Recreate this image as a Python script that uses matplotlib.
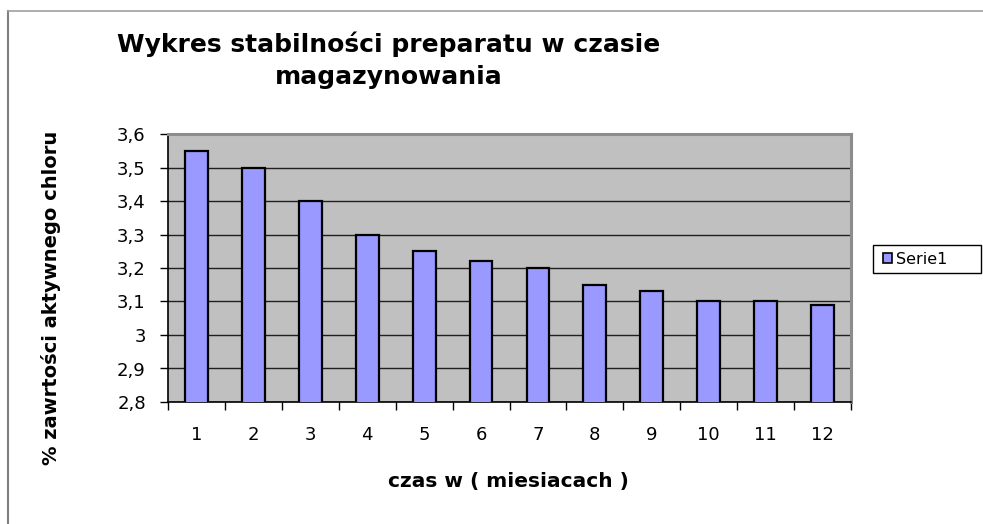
import matplotlib
matplotlib.use("Agg")
import matplotlib.pyplot as plt
from matplotlib.patches import Rectangle
import numpy as np

plt.rcParams['font.family'] = ['DejaVu Sans']

months = ['1', '2', '3', '4', '5', '6', '7', '8', '9', '10', '11', '12']
values = [3.55, 3.50, 3.40, 3.30, 3.25, 3.22, 3.20, 3.15, 3.13, 3.10, 3.10, 3.09]
y_ticks = [2.8, 2.9, 3.0, 3.1, 3.2, 3.3, 3.4, 3.5, 3.6]
y_ticklabels = ['2,8', '2,9', '3', '3,1', '3,2', '3,3', '3,4', '3,5', '3,6']
series_name = 'Serie1'
title = 'Wykres stabilności preparatu w czasie\nmagazynowania'
xlabel = 'czas w ( miesiacach )'
ylabel = '% zawrtości aktywnego chloru'

W, H = 983, 524
fig = plt.figure(figsize=(W / 100, H / 100), dpi=100)

# outer chart border (left and top visible)
fig.add_artist(plt.Line2D([7.5 / W, 7.5 / W], [0, 1 - 10.5 / H], color='#7F7F7F', lw=1.5))
fig.add_artist(plt.Line2D([7.5 / W, 1.01], [1 - 10.5 / H, 1 - 10.5 / H], color='#A0A0A0', lw=1.2))

left, right, top, bottom = 168, 851, 134, 402
ax = fig.add_axes([left / W, 1 - bottom / H, (right - left) / W, (bottom - top) / H])
ax.set_facecolor('#C0C0C0')

x = np.arange(len(months))
ax.bar(x, values, width=0.40, bottom=0, color='#9999FF', edgecolor='black', linewidth=1.6, zorder=3, label=series_name)
ax.set_ylim(2.8, 3.6)
ax.set_xlim(-0.5, len(months) - 0.5)

ax.set_yticks(y_ticks)
ax.set_yticklabels(y_ticklabels, fontsize=13)
ax.yaxis.grid(True, color='#202020', lw=1.0, zorder=1)
ax.set_axisbelow(True)

ax.set_xticks(x)
ax.set_xticklabels(months, fontsize=13)
ax.tick_params(axis='x', which='major', length=0, pad=17)
ax.set_xticks(np.arange(-0.5, len(months) + 0.5, 1), minor=True)
ax.tick_params(axis='x', which='minor', length=6, width=1, direction='out')
ax.tick_params(axis='y', length=6, width=1, direction='out', pad=10)

for s in ['left', 'bottom']:
    ax.spines[s].set_color('black')
    ax.spines[s].set_linewidth(1.2)
for s in ['top', 'right']:
    ax.spines[s].set_color('#8C8C8C')
    ax.spines[s].set_linewidth(2.2)

fig.text(389 / W, 1 - 60 / H, title, ha='center', va='center', fontsize=18, fontweight='bold',
         linespacing=1.4)
fig.text(508 / W, 1 - 481 / H, xlabel, ha='center', va='center', fontsize=14.5, fontweight='bold')
fig.text(51 / W, 1 - 298 / H, ylabel, ha='center', va='center', rotation=90, fontsize=14, fontweight='bold')

# legend box
fig.add_artist(Rectangle((873 / W, 1 - 273 / H), (981 - 873) / W, 28 / H, transform=fig.transFigure,
                         facecolor='white', edgecolor='black', lw=1.0))
leg = fig.legend(loc='center left', bbox_to_anchor=(870 / W, 1 - 259 / H), fontsize=11.5,
                 frameon=False, handlelength=0.6, handleheight=0.6,
                 handletextpad=0.25, borderpad=0.3)
for h in leg.legend_handles:
    h.set_linewidth(1.2)

fig.savefig('out.png', dpi=100)
